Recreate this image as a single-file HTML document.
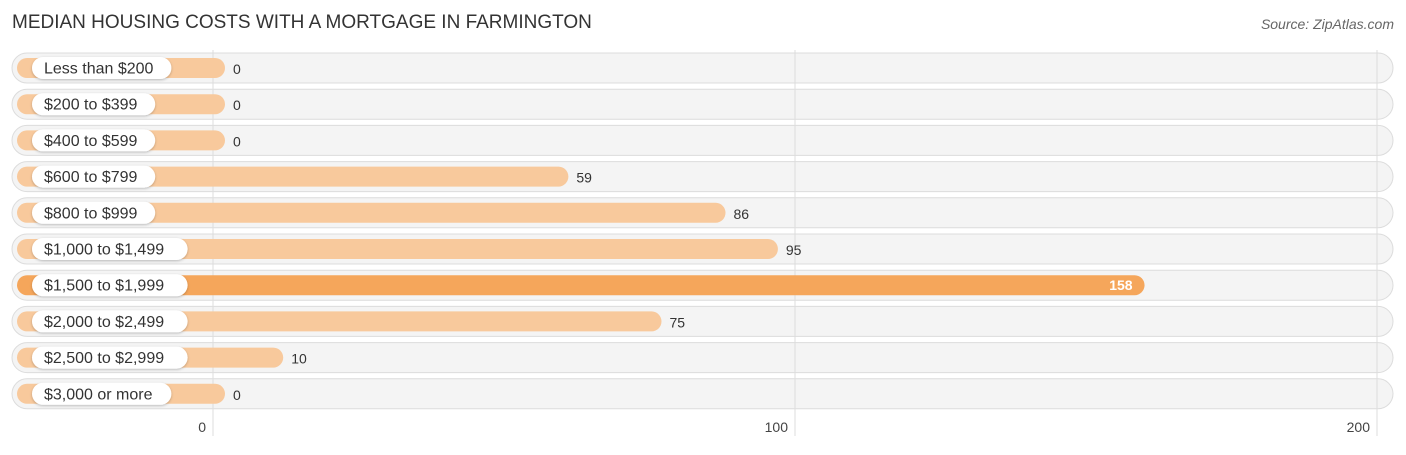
<!DOCTYPE html>
<html><head><meta charset="utf-8"><style>
body{margin:0;background:#fff;width:1406px;height:450px;overflow:hidden;font-family:"Liberation Sans",sans-serif;}
</style></head><body>
<svg id="chart" width="1406" height="450" xmlns="http://www.w3.org/2000/svg">
<defs><filter id="sh" x="-10%" y="-30%" width="120%" height="160%"><feDropShadow dx="0" dy="1" stdDeviation="1.2" flood-color="#000" flood-opacity="0.25"/></filter></defs>
<text x="12" y="28" font-size="19" fill="#333">MEDIAN HOUSING COSTS WITH A MORTGAGE IN FARMINGTON</text>
<text x="1394" y="29" font-size="14" fill="#666" font-style="italic" text-anchor="end">Source: ZipAtlas.com</text>
<g id="grid"></g><g id="rows"></g><g id="ticks"></g>
</svg>
<script>
const categories=["Less than $200","$200 to $399","$400 to $599","$600 to $799","$800 to $999","$1,000 to $1,499","$1,500 to $1,999","$2,000 to $2,499","$2,500 to $2,999","$3,000 or more"];
const values=[0,0,0,59,86,95,158,75,10,0];
const tickValues=[0,100,200];
const tickLabels=["0","100","200"];
const NS="http://www.w3.org/2000/svg";
const x0=213,scale=5.82;
function xg(v){return x0+v*scale;}
function xb(v){return x0+12+v*scale;}
function yr(i){return 68+i*36.2;}
function mk(tag,attrs,parent){const e=document.createElementNS(NS,tag);for(const k in attrs)e.setAttribute(k,attrs[k]);parent.appendChild(e);return e;}
const grid=document.getElementById('grid'),rows=document.getElementById('rows'),ticks=document.getElementById('ticks');
const maxV=Math.max(...values);
categories.forEach((c,i)=>{
  const y=yr(i);
  const tr=mk('rect',{x:12,y:y-15,width:1381,height:30,rx:15,fill:'#f4f4f4',stroke:'#dcdcdc','stroke-width':1},rows);
  
  
});
tickValues.forEach((v,i)=>{
  const l=mk('line',{x1:xg(v),x2:xg(v),y1:50,y2:436,stroke:'#ddd','stroke-width':1},grid);
  
  
  const t=mk('text',{x:xg(v)-7,y:432,'font-size':14,fill:'#444','text-anchor':'end'},ticks);
  
  
  t.textContent=tickLabels[i];
});
rows.parentNode.appendChild(grid);
const bars=mk('g',{},rows.parentNode);
categories.forEach((c,i)=>{
  const y=yr(i),v=values[i],hi=v===maxV;
  const b=mk('rect',{x:17,y:y-10,width:xb(v)-17,height:20,rx:10,fill:hi?'#f5a65b':'#f8c99c'},bars);
  
  
  const pw=c.length*8.1+26;
  const p=mk('rect',{x:32,y:y-11,width:pw,height:22,rx:11,fill:'#fff',filter:'url(#sh)'},bars);
  
  
  const t=mk('text',{x:44,y:y+5.5,'font-size':16,fill:'#333'},bars);
  
  
  t.textContent=c;
  const vt=mk('text',hi?{x:xb(v)-12,y:y+5,'font-size':14,fill:'#fff','font-weight':'bold','text-anchor':'end'}:{x:xb(v)+8,y:y+6,'font-size':14,fill:'#333'},bars);
  
  
  vt.textContent=v;
});
</script>
</body></html>
